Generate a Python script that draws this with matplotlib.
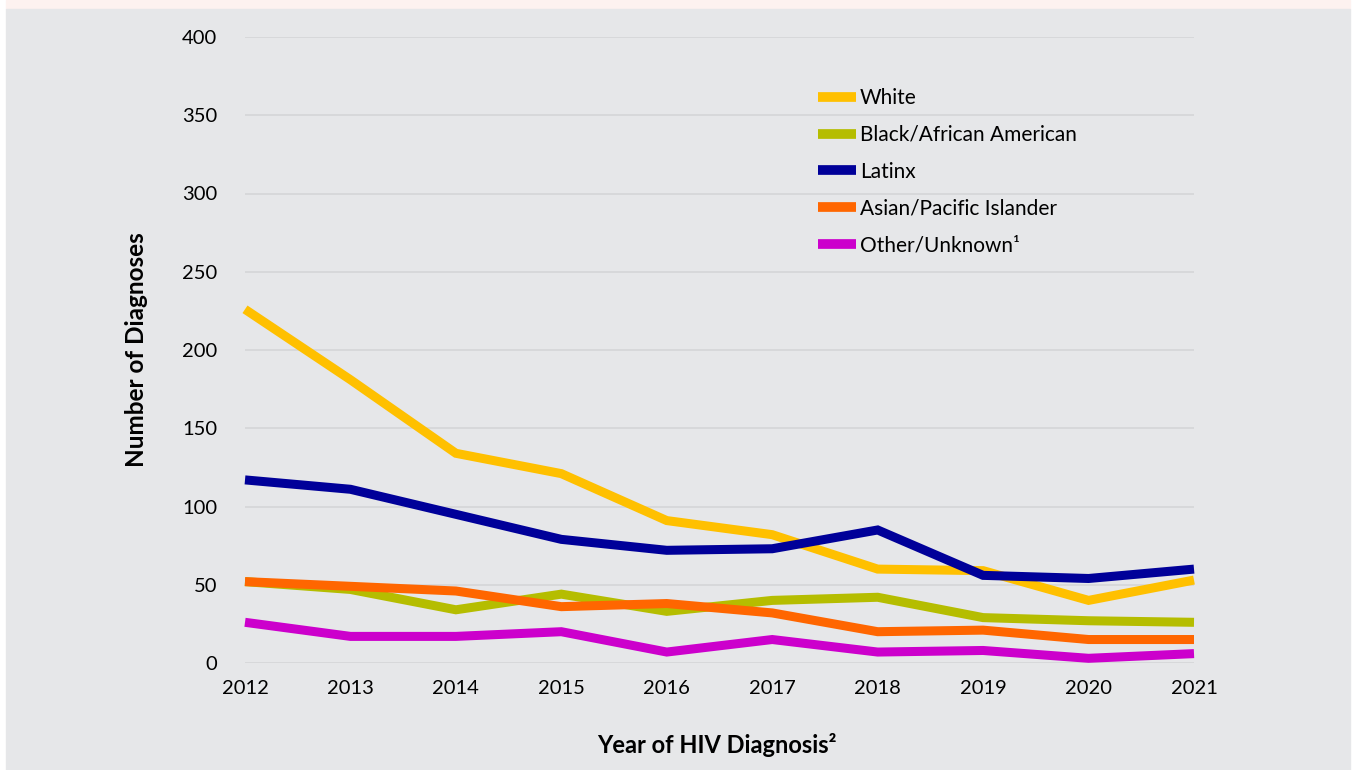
import matplotlib.pyplot as plt
from matplotlib.patches import Rectangle

plt.rcParams['font.family'] = ['Lato', 'DejaVu Sans']

years = [2012, 2013, 2014, 2015, 2016, 2017, 2018, 2019, 2020, 2021]
white = [226, 181, 134, 121, 91, 82, 60, 59, 40, 53]
black = [52, 47, 34, 44, 33, 40, 42, 29, 27, 26]
latinx = [117, 111, 95, 79, 72, 73, 85, 56, 54, 60]
asian = [52, 49, 46, 36, 38, 32, 20, 21, 15, 15]
other = [26, 17, 17, 20, 7, 15, 7, 8, 3, 6]

series = [
    ("White", white, "#FFC000"),
    ("Black/African American", black, "#B5BD00"),
    ("Latinx", latinx, "#000099"),
    ("Asian/Pacific Islander", asian, "#FF6600"),
    ("Other/Unknown\u00b9", other, "#CC00CC"),
]

W, H = 1356, 770
fig = plt.figure(figsize=(W / 100, H / 100), dpi=100)
fig.patch.set_facecolor("white")

# page background: pink strip on top, gray panel below
fig.patches.append(Rectangle((6 / W, 1 - 9 / H), 1344 / W, 9 / H,
                             transform=fig.transFigure, color="#FDF2F0", zorder=-10))
fig.patches.append(Rectangle((6 / W, 0), 1344 / W, 1 - 9 / H,
                             transform=fig.transFigure, color="#E6E7E9", zorder=-10))

ax = fig.add_axes([245 / W, 1 - 663 / H, (1194 - 245) / W, (663 - 37) / H])
ax.set_facecolor("none")

for name, vals, col in series:
    ax.plot(years, vals, color=col, lw=6.5, label=name, solid_capstyle="butt",
            solid_joinstyle="miter", clip_on=False)

ax.set_xlim(2012, 2021)
ax.set_ylim(0, 400)
ax.set_yticks(range(0, 401, 50))
ax.set_xticks(years)
ax.grid(axis="y", color="#D6D7D9", lw=1.3)
ax.set_axisbelow(True)
for s in ax.spines.values():
    s.set_visible(False)
ax.tick_params(length=0, labelsize=14.5, colors="black")
ax.tick_params(axis="y", pad=20)
ax.tick_params(axis="x", pad=12)

fig.text(137 / W, 1 - 350 / H, "Number of Diagnoses", rotation=90, ha="center",
         va="center", fontsize=17.5, fontweight="bold")
fig.text(717 / W, 1 - 745 / H, "Year of HIV Diagnosis\u00b2", ha="center",
         va="center", fontsize=17, fontweight="bold")

leg = ax.legend(loc="upper left", bbox_to_anchor=((818 - 245) / (1194 - 245), 1 - (88 - 37) / 626),
                frameon=False, fontsize=15, handlelength=1.8, handletextpad=0.2,
                labelspacing=0.81, borderpad=0, borderaxespad=0)
for line in leg.get_lines():
    line.set_linewidth(7)

fig.savefig("out.png", dpi=100)
